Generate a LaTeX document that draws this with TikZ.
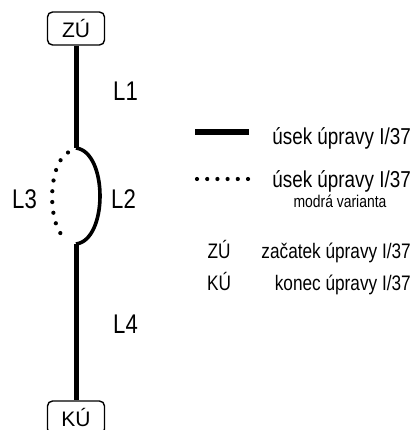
\documentclass[tikz,border=0pt]{standalone}
\usepackage{fontspec}
\setmainfont{Liberation Sans}[FakeStretch=0.82]
\newfontfamily\boxfont{Liberation Sans}
\begin{document}
\begin{tikzpicture}[x=1pt,y=-1pt,
  fs/.style={font=\fontsize{#1}{#1}\selectfont},
  endbox/.style={draw,line width=1.4,rounded corners=5,minimum width=57,minimum height=33,inner sep=0,font=\boxfont\fontsize{21}{21}\selectfont},
  mainline/.style={line width=5},
  arcline/.style={line width=3.6},
  dotline/.style={line width=4.2,line cap=round,dash pattern=on 0pt off #1},
  lab/.style={anchor=base west,inner sep=0,fs=27},
  leg/.style={anchor=base east,inner sep=0,fs=#1}]
\useasboundingbox (0,0) rectangle (414,430);
\node[endbox] (zu) at (76,28.5) {ZÚ};
\node[endbox] (ku) at (76,417.5) {KÚ};
\coordinate (a1) at (76,148);
\coordinate (a2) at (76,244);
\coordinate (d1) at (68,152.5);
\coordinate (d2) at (67,240);
\draw[mainline] (zu.south) -- (a1);
\draw[mainline] (a2) -- (ku.north);
\draw[arcline] (a1) .. controls (108,152) and (108,240) .. (a2);
\draw[dotline=10.8pt] (d1) .. controls (47,165) and (47,228) .. (d2);
\node[lab] (l1) at (113,101) {L1};
\node[lab] (l2) at (111,208) {L2};
\node[lab] (l3) at (12,208) {L3};
\node[lab] (l4) at (113,333) {L4};
% legend
\coordinate (t1) at (195,132);
\coordinate (t2) at (249,132);
\draw[line width=6] (t1) -- (t2);
\coordinate (p1) at (197,179);
\coordinate (p2) at (248,179);
\draw[dotline=10.2pt] (p1) -- (p2);
\node[leg=23] (r1) at (411,145) {úsek úpravy I/37};
\node[leg=23] (r2) at (411,188) {úsek úpravy I/37};
\node[anchor=base,inner sep=0,fs=17] (r2b) at (340,207) {modrá varianta};
\node[anchor=base,inner sep=0,fs=21] (r3a) at (219,258) {ZÚ};
\node[leg=21] (r3) at (411,258) {začatek úpravy I/37};
\node[anchor=base,inner sep=0,fs=21] (r4a) at (219,290) {KÚ};
\node[leg=21] (r4) at (411,290) {konec úpravy I/37};
\end{tikzpicture}
\end{document}
